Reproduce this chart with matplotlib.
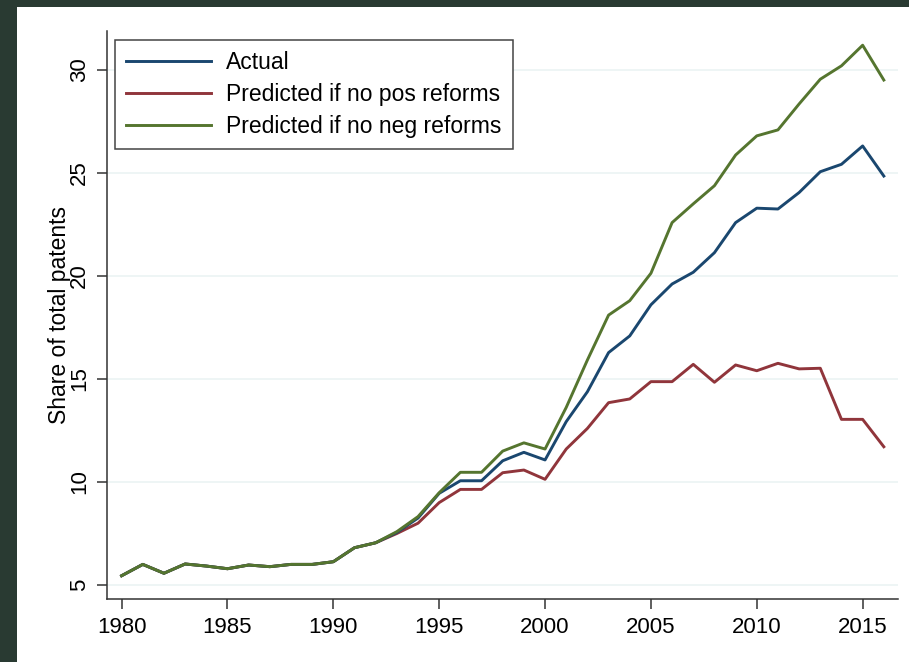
import matplotlib
matplotlib.use("Agg")
import matplotlib.pyplot as plt
from matplotlib.patches import Rectangle

plt.rcParams['font.family'] = ['Liberation Sans', 'DejaVu Sans']

years = list(range(1980, 2017))
actual = [5.45, 6.00, 5.57, 6.02, 5.92, 5.79, 5.97, 5.89, 6.00, 6.00, 6.13,
          6.81, 7.05, 7.55, 8.25, 9.45, 10.06, 10.06, 11.03, 11.44, 11.07,
          12.93, 14.38, 16.28, 17.09, 18.60, 19.61, 20.18, 21.13, 22.59, 23.29,
          23.25, 24.05, 25.06, 25.42, 26.31, 24.85]
no_pos = [5.45, 6.00, 5.57, 6.02, 5.92, 5.79, 5.97, 5.89, 6.00, 6.00, 6.13,
          6.81, 7.05, 7.50, 8.00, 9.00, 9.64, 9.64, 10.45, 10.58, 10.13,
          11.60, 12.60, 13.85, 14.03, 14.87, 14.87, 15.71, 14.84, 15.68, 15.40,
          15.76, 15.49, 15.52, 13.04, 13.04, 11.71]
no_neg = [5.45, 6.00, 5.57, 6.02, 5.92, 5.79, 5.97, 5.89, 6.00, 6.00, 6.13,
          6.81, 7.05, 7.59, 8.32, 9.48, 10.47, 10.47, 11.50, 11.90, 11.60,
          13.62, 15.92, 18.10, 18.80, 20.13, 22.59, 23.50, 24.38, 25.87, 26.80,
          27.09, 28.35, 29.55, 30.20, 31.20, 29.51]
labels = ["Actual", "Predicted if no pos reforms", "Predicted if no neg reforms"]
xticks = [1980, 1985, 1990, 1995, 2000, 2005, 2010, 2015]
yticks = [5, 10, 15, 20, 25, 30]

fig = plt.figure(figsize=(9.09, 6.62), dpi=100)
fig.patch.set_facecolor('white')
# dark frame strips (left and top)
fig.patches.append(Rectangle((0, 0), 17 / 909, 1, transform=fig.transFigure,
                             facecolor='#293a32', edgecolor='none', zorder=0))
fig.patches.append(Rectangle((0, 1 - 7 / 662), 1, 7 / 662, transform=fig.transFigure,
                             facecolor='#293a32', edgecolor='none', zorder=0))

ax = fig.add_axes([107 / 909, 1 - 599.3 / 662, (898 - 107) / 909, (599.3 - 31) / 662])
ax.set_facecolor('white')

for yv in yticks:
    ax.axhline(yv, color='#eaf2f3', lw=1.1, zorder=0)

ax.plot(years, actual, color='#1a476f', lw=2.1, label=labels[0], zorder=3)
ax.plot(years, no_pos, color='#90353b', lw=2.1, label=labels[1], zorder=2)
ax.plot(years, no_neg, color='#55752f', lw=2.1, label=labels[2], zorder=4)

ax.set_xlim(1979.31, 2016.67)
ax.set_ylim(4.306, 31.89)
ax.set_xticks(xticks)
ax.set_yticks(yticks)
ax.set_xticklabels([str(v) for v in xticks], fontsize=16)
ax.set_yticklabels([str(v) for v in yticks], fontsize=16, rotation=90, va='center')
ax.tick_params(axis='both', direction='out', length=7, width=1.1, color='#333333')
ax.tick_params(axis='x', pad=6)
ax.tick_params(axis='y', pad=5)

for s in ['top', 'right']:
    ax.spines[s].set_visible(False)
for s in ['left', 'bottom']:
    ax.spines[s].set_color('#333333')
    ax.spines[s].set_linewidth(1.1)

ax.set_ylabel("Share of total patents", fontsize=16.5, labelpad=-1)

h, l = ax.get_legend_handles_labels()
leg = ax.legend(h, l,
                loc='upper left', bbox_to_anchor=(115 / 909, 1 - 40 / 662),
                bbox_transform=fig.transFigure, borderaxespad=0,
                fontsize=16.5, handlelength=3.7, handletextpad=0.65,
                labelspacing=0.38, borderpad=0.5, fancybox=False,
                frameon=True, framealpha=1)
leg.get_frame().set_edgecolor('#444444')
leg.get_frame().set_linewidth(1.1)

fig.savefig('out.png', dpi=100, facecolor='white')
